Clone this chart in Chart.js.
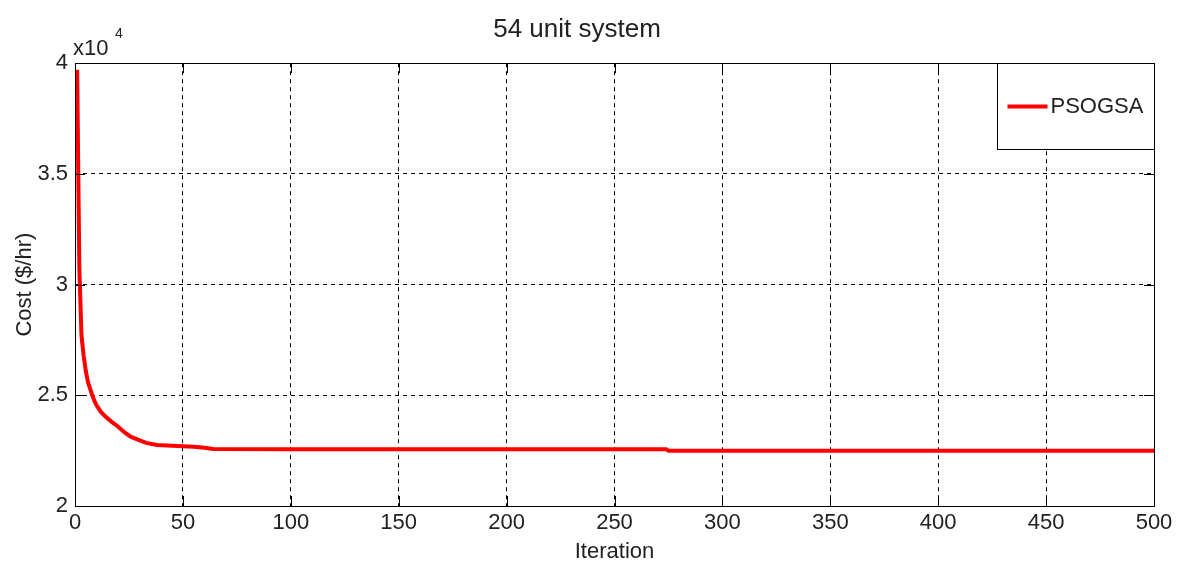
<!DOCTYPE html>
<html>
<head>
<meta charset="utf-8">
<script src="https://cdn.jsdelivr.net/npm/chart.js@4"></script>
<style>
  body { margin: 0; background: #fff; }
  #wrap { width: 1182px; height: 566px; }
</style>
</head>
<body>
<div id="wrap"><canvas id="costChart" width="1182" height="566"></canvas></div>
<script>
'use strict'

// 반복 횟수 (x)
const iterations = [1, 2, 3, 4, 5, 6, 7, 8, 9, 10, 12, 14, 17, 20, 23, 26, 30, 33, 38, 45, 55, 60, 64, 100, 200, 274, 275, 500];
// 비용 ($/hr)
const costs = [39700, 30800, 27700, 26800, 26100, 25600, 25300, 25000, 24750, 24550, 24250, 24050, 23800, 23580, 23320, 23120, 22960, 22850, 22760, 22720, 22680, 22630, 22570, 22560, 22560, 22560, 22500, 22500];
// 축 눈금
const xTickStep = 50;
const yTickStep = 5000;
const seriesName = 'PSOGSA';

const FONT = "'Liberation Sans', Arial, sans-serif";

// 프레임, 안쪽 눈금, x10^4, 범례 박스
const matlabFrame = {
    id: 'matlabFrame',
    afterDraw(chart) {
        const ctx = chart.ctx;
        const a = chart.chartArea;
        const xs = chart.scales.x;
        const ys = chart.scales.y;
        ctx.save();
        ctx.strokeStyle = '#000';
        ctx.lineWidth = 1;
        ctx.setLineDash([]);
        ctx.beginPath();
        xs.ticks.forEach((t) => {
            const px = Math.round(xs.getPixelForValue(t.value)) + 0.5;
            ctx.moveTo(px, a.bottom); ctx.lineTo(px, a.bottom - 10);
            ctx.moveTo(px, a.top); ctx.lineTo(px, a.top + 10);
        });
        ys.ticks.forEach((t) => {
            const py = Math.round(ys.getPixelForValue(t.value)) + 0.5;
            ctx.moveTo(a.left, py); ctx.lineTo(a.left + 10, py);
            ctx.moveTo(a.right, py); ctx.lineTo(a.right - 10, py);
        });
        ctx.stroke();
        ctx.strokeRect(Math.round(a.left) + 0.5, Math.round(a.top) + 0.5, Math.round(a.right - a.left), Math.round(a.bottom - a.top));

        // x10^4
        ctx.fillStyle = '#222';
        ctx.textBaseline = 'alphabetic';
        ctx.textAlign = 'left';
        ctx.font = '22px ' + FONT;
        ctx.fillText('x10', a.left - 2, a.top - 8);
        ctx.font = '14px ' + FONT;
        ctx.fillText('4', a.left + 40, a.top - 25);

        // 범례
        const ds = chart.data.datasets[0];
        const bw = 157, bh = 86;
        const bx = Math.round(a.right) - bw + 0.5;
        const by = Math.round(a.top) + 0.5;
        ctx.fillStyle = '#fff';
        ctx.fillRect(bx, by, bw, bh);
        ctx.strokeStyle = '#000';
        ctx.strokeRect(bx, by, bw, bh);
        ctx.strokeStyle = ds.borderColor;
        ctx.lineWidth = 4;
        ctx.beginPath();
        ctx.moveTo(bx + 10, by + 43);
        ctx.lineTo(bx + 50, by + 43);
        ctx.stroke();
        ctx.fillStyle = '#222';
        ctx.font = '22px ' + FONT;
        ctx.textBaseline = 'middle';
        ctx.fillText(ds.label, bx + 53, by + 43);
        ctx.restore();
    }
};

new Chart(document.getElementById('costChart'), {
    type: 'line',
    data: {
        datasets: [{
            label: seriesName,
            data: iterations.map((x, i) => ({ x: x, y: costs[i] })),
            borderColor: '#ff0000',
            borderWidth: 4,
            pointRadius: 0,
            tension: 0,
            fill: false
        }]
    },
    options: {
        responsive: false,
        animation: false,
        layout: { padding: { left: 0, right: 28, top: 0, bottom: 0 } },
        plugins: {
            legend: { display: false },
            tooltip: { enabled: false },
            title: {
                display: true,
                text: '54 unit system',
                color: '#222',
                font: { family: FONT, size: 26, weight: 'normal', lineHeight: 1.2 },
                padding: { top: 14, bottom: 18 }
            }
        },
        scales: {
            x: {
                type: 'linear',
                min: 0,
                max: 500,
                ticks: { stepSize: xTickStep, color: '#222', padding: 4, maxRotation: 0, font: { family: FONT, size: 22 } },
                grid: { color: '#000', lineWidth: 1, drawTicks: false },
                border: { display: false, dash: [4, 4] },
                title: { display: true, text: 'Iteration', color: '#222', font: { family: FONT, size: 22 }, padding: { top: 0, bottom: 1 } },
                afterFit(scale) { scale.height = 60; }
            },
            y: {
                min: 20000,
                max: 40000,
                ticks: {
                    stepSize: yTickStep,
                    color: '#222',
                    padding: 7,
                    font: { family: FONT, size: 22 },
                    callback: (v) => v / 10000
                },
                grid: { color: '#000', lineWidth: 1, drawTicks: false },
                border: { display: false, dash: [4, 4] },
                title: { display: true, text: 'Cost ($/hr)', color: '#222', font: { family: FONT, size: 22 }, padding: { top: 12, bottom: 0 } },
                afterFit(scale) { scale.width = 75; }
            }
        }
    },
    plugins: [matlabFrame]
});
</script>
</body>
</html>
